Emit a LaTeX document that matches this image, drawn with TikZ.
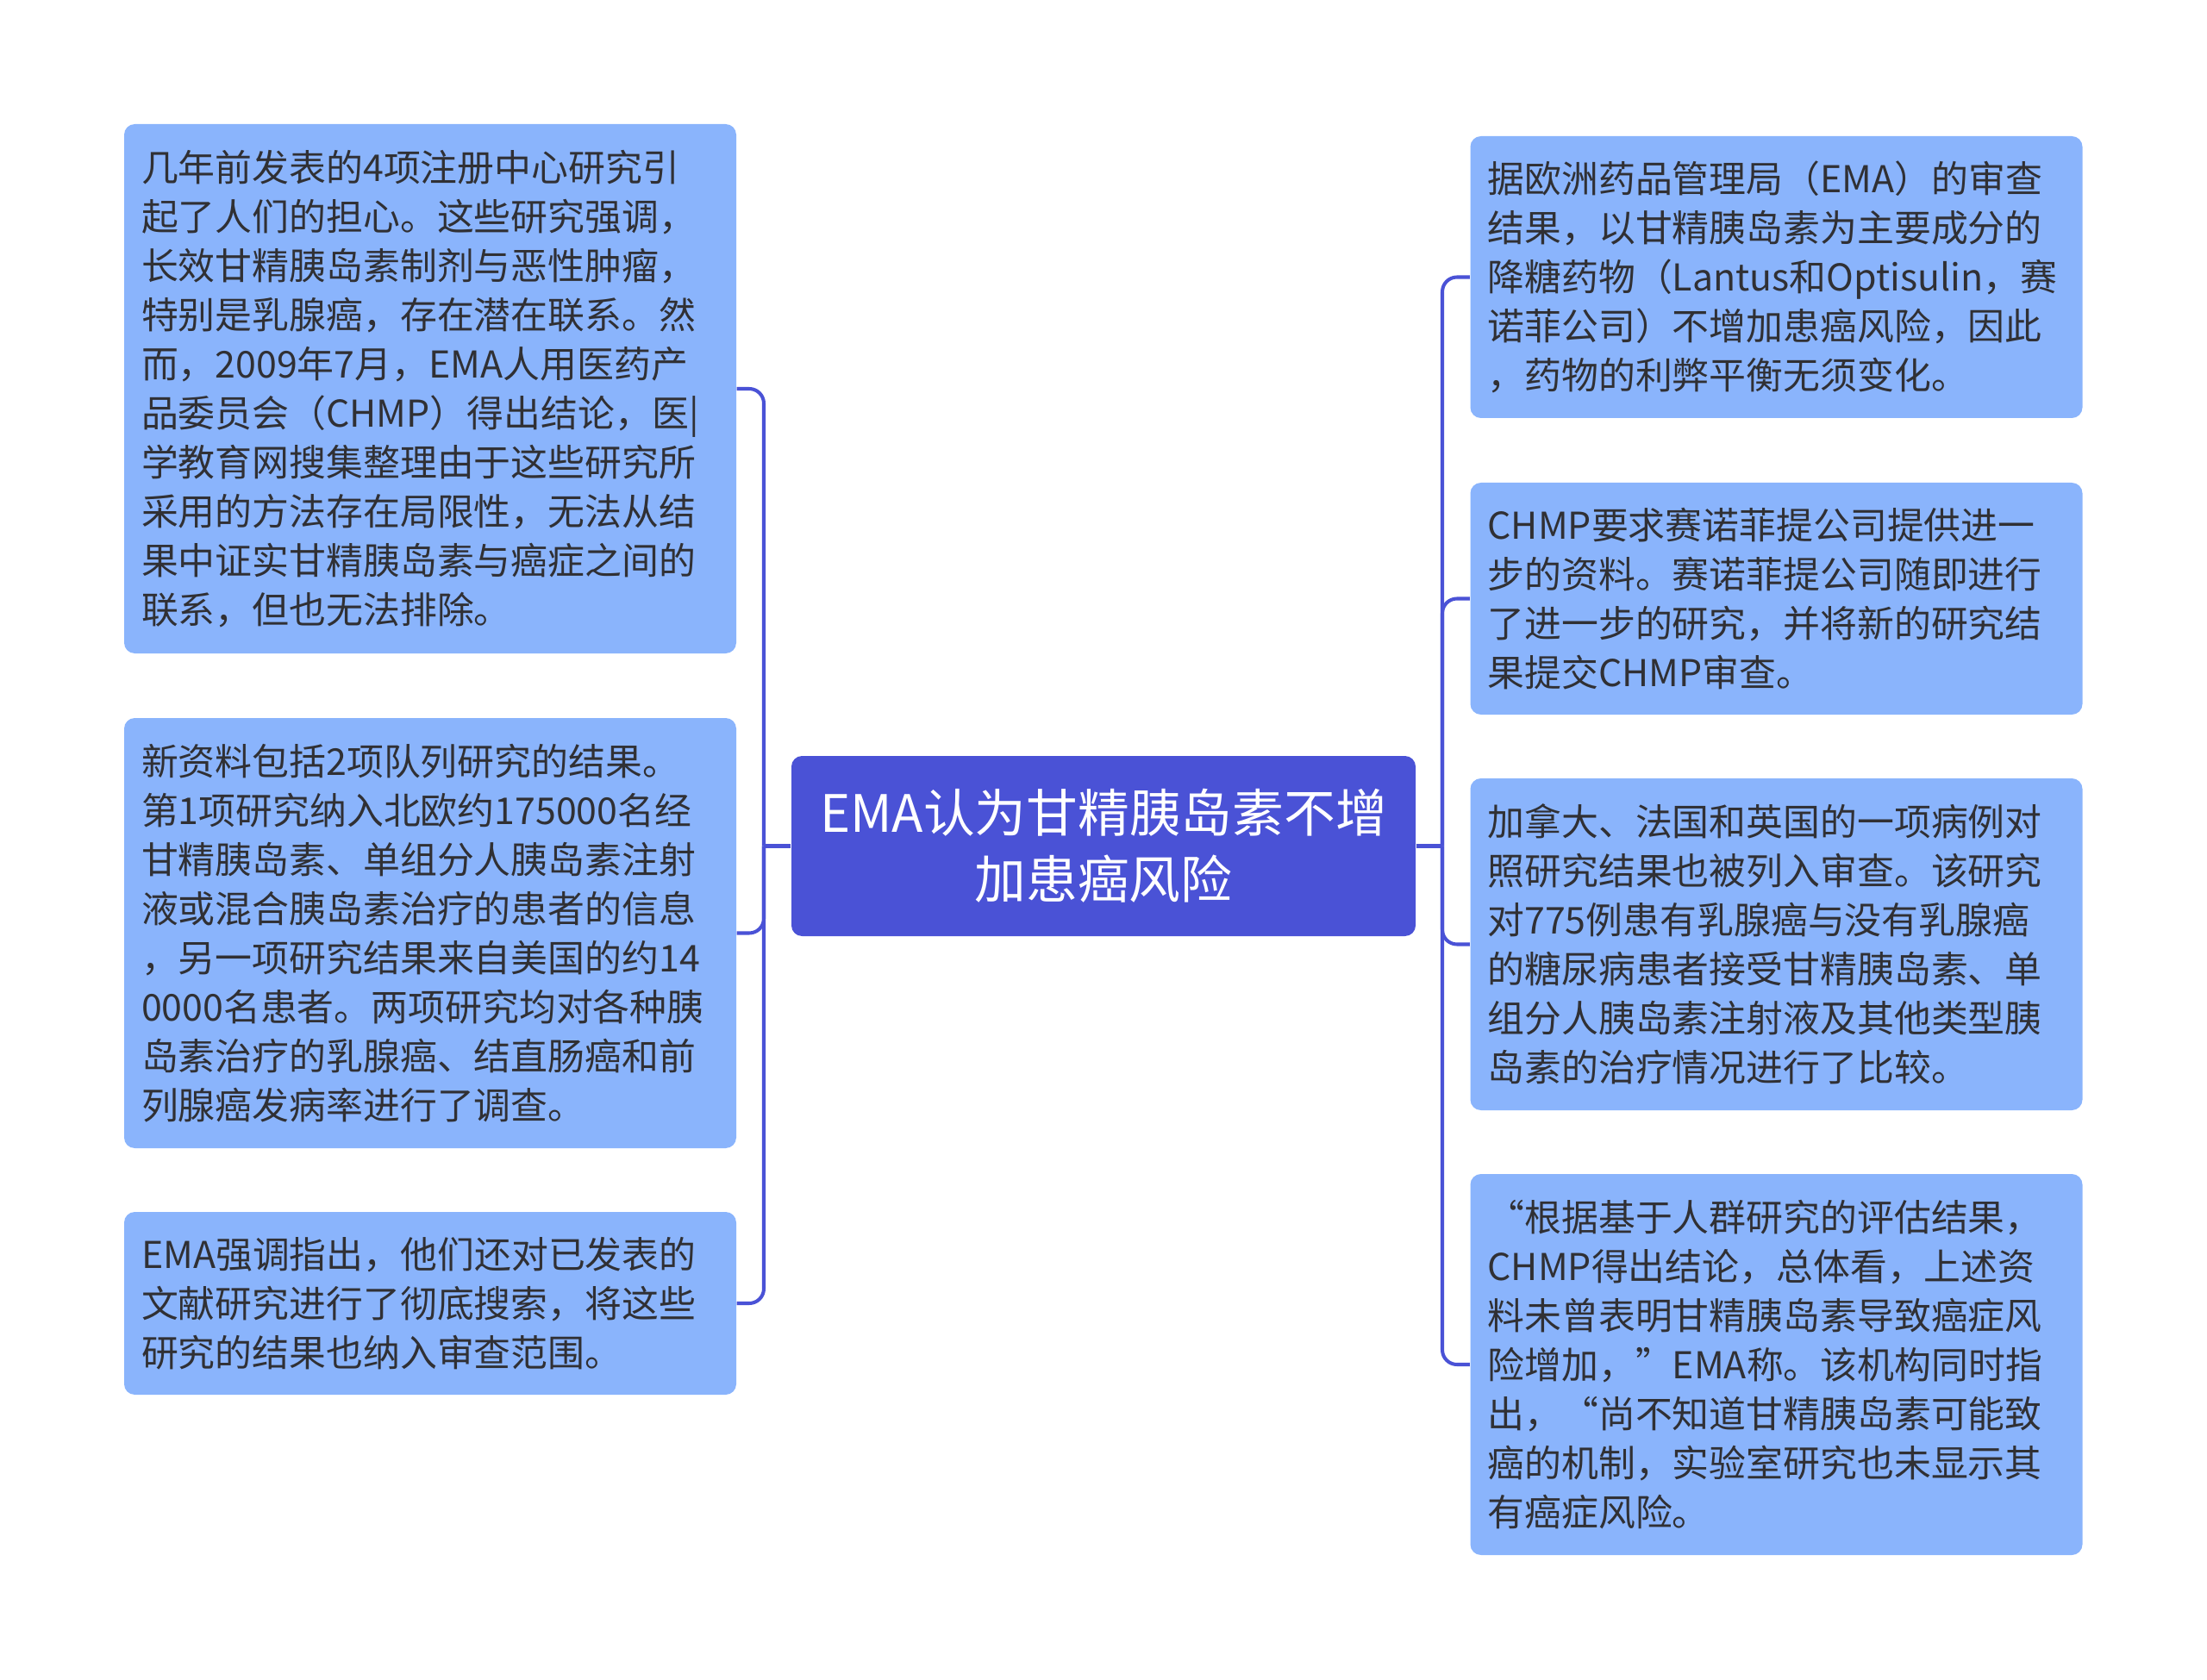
\documentclass[tikz,border=0pt]{standalone}
\usepackage{fontspec}
\setmainfont{Noto Sans CJK SC}
\usetikzlibrary{positioning}

\definecolor{leafblue}{RGB}{138,180,252}
\definecolor{rootblue}{RGB}{74,82,214}
\definecolor{inkgray}{RGB}{48,48,52}

\begin{document}
\begin{tikzpicture}[
  font=\fontsize{12.2pt}{16.2pt}\selectfont,
  box/.style={rounded corners=3.5pt,inner xsep=0.2cm,inner ysep=0pt},
  leaf/.style={box,fill=leafblue,text=inkgray,align=left,text width=6.7cm,minimum width=7.1cm},
  root/.style={box,fill=rootblue,text=white,align=center,minimum width=7.24cm,minimum height=2.09cm,
               font=\fontsize{17pt}{22pt}\selectfont},
  link/.style={draw=rootblue,line width=1.15pt,rounded corners=0.17cm}
]
\useasboundingbox (0,0) rectangle (25.6,-19.49);

% ---------------- root ----------------
\node[root] (main) at (12.80,-9.815) {EMA认为甘精胰岛素不增\\加患癌风险};
\coordinate (lspine) at (8.86,-9.815);
\coordinate (rspine) at (16.73,-9.815);

% ---------------- left ----------------
\node[leaf,minimum height=6.14cm] (l1) at (4.99,-4.51)
  {几年前发表的4项注册中心研究引\\起了人们的担心。这些研究强调，\\长效甘精胰岛素制剂与恶性肿瘤，\\特别是乳腺癌，存在潜在联系。然\\而，2009年7月，EMA人用医药产\\品委员会（CHMP）得出结论，医|\\学教育网搜集整理由于这些研究所\\采用的方法存在局限性，无法从结\\果中证实甘精胰岛素与癌症之间的\\联系，但也无法排除。};
\node[leaf,minimum height=4.99cm] (l2) at (4.99,-10.825)
  {新资料包括2项队列研究的结果。\\第1项研究纳入北欧约175000名经\\甘精胰岛素、单组分人胰岛素注射\\液或混合胰岛素治疗的患者的信息\\，另一项研究结果来自美国的约14\\0000名患者。两项研究均对各种胰\\岛素治疗的乳腺癌、结直肠癌和前\\列腺癌发病率进行了调查。};
\node[leaf,minimum height=2.12cm] (l3) at (4.99,-15.12)
  {EMA强调指出，他们还对已发表的\\文献研究进行了彻底搜索，将这些\\研究的结果也纳入审查范围。};

% ---------------- right ----------------
\node[leaf,minimum height=3.27cm] (r1) at (20.605,-3.215)
  {据欧洲药品管理局（EMA）的审查\\结果，以甘精胰岛素为主要成分的\\降糖药物（Lantus和Optisulin，赛\\诺菲公司）不增加患癌风险，因此\\，药物的利弊平衡无须变化。};
\node[leaf,minimum height=2.69cm] (r2) at (20.605,-6.945)
  {CHMP要求赛诺菲提公司提供进一\\步的资料。赛诺菲提公司随即进行\\了进一步的研究，并将新的研究结\\果提交CHMP审查。};
\node[leaf,minimum height=3.85cm] (r3) at (20.605,-10.955)
  {加拿大、法国和英国的一项病例对\\照研究结果也被列入审查。该研究\\对775例患有乳腺癌与没有乳腺癌\\的糖尿病患者接受甘精胰岛素、单\\组分人胰岛素注射液及其他类型胰\\岛素的治疗情况进行了比较。};
\node[leaf,minimum height=4.42cm] (r4) at (20.605,-15.83)
  {“根据基于人群研究的评估结果，\\CHMP得出结论，总体看，上述资\\料未曾表明甘精胰岛素导致癌症风\\险增加，”EMA称。该机构同时指\\出，“尚不知道甘精胰岛素可能致\\癌的机制，实验室研究也未显示其\\有癌症风险。};

% ---------------- links ----------------
\draw[link] (main.west) -- (lspine);
\draw[link] (main.east) -- (rspine);
\foreach \leaf in {l1,l2,l3} \draw[link] (lspine) |- (\leaf.east);
\foreach \leaf in {r1,r2,r3,r4} \draw[link] (rspine) |- (\leaf.west);
\end{tikzpicture}
\end{document}
